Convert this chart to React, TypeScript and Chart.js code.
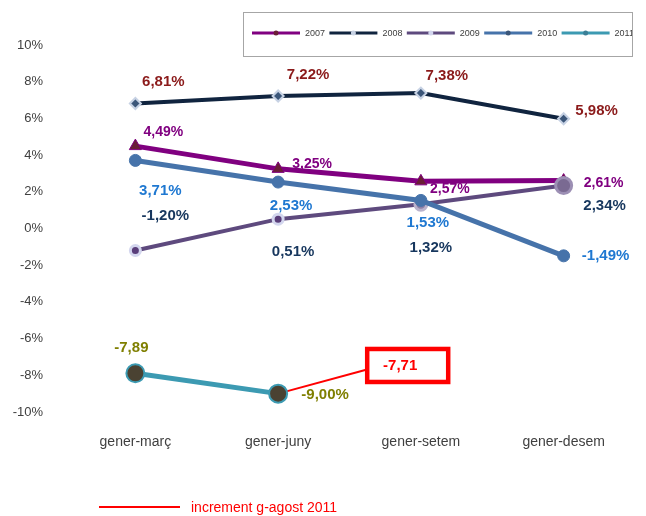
import React, { useEffect, useRef } from 'react';
import { Chart, registerables } from 'chart.js';

Chart.register(...registerables);

// ---------- data ----------
const categories = ['gener-març', 'gener-juny', 'gener-setem', 'gener-desem'];
const seriesNames = ['2007', '2008', '2009', '2010', '2011'];
const values2007 = [4.49, 3.25, 2.57, 2.61];
const values2008 = [6.81, 7.22, 7.38, 5.98];
const values2009 = [-1.2, 0.51, 1.32, 2.34];
const values2010 = [3.71, 2.53, 1.53, -1.49];
const values2011: (number | null)[] = [-7.89, -9.0, null, null];
const labelSuffix2011 = ['', '%'];
const incrementName = 'increment g-agost 2011';
const incrementValue = -7.71;
const incrementLabel = '-7,71';
const incrementPos = 1.61; // horizontal position between gener-juny and gener-setem
const yMin = -10;
const yMax = 10;
const yStep = 2;

// ---------- styles ----------
const FONT = '"Liberation Sans", Arial, sans-serif';
const lineColors = ['#800080', '#10243F', '#5E4A7E', '#4673AA', '#3C9AB2'];
const lineWidths = [5, 4, 4, 5, 5];
const pointStyles = ['triangle', 'rectRot', 'circle', 'circle', 'circle'];
const pointRadii: any[] = [7, 5.5, [5, 5, 6, 8], 6, 9];
const pointFills: any[] = ['#6A1E36', '#3B5679', ['#5A3E7A', '#5A3E7A', '#8C7FA6', '#7A6A92'], '#4673AA', '#4A4232'];
const pointBorders: any[] = ['#800080', '#C7D2E4', ['#D3D6EE', '#D3D6EE', '#B9B2CC', '#9C8FB4'], '#4673AA', '#3C9AB2'];
const pointBorderWidths = [1, 2, 3, 1, 2];
const legendMarkers = ['#6A1E36', '#C7D2E4', '#D3D6EE', '#3B5679', '#3B7F96'];
const drawOrders = [4, 3, 2, 1, 0];
const labelColors = ['#800080', '#8B1A1A', '#17375E', '#1F78D1', '#7F7F00'];
const labelSizes = [14, 15, 15, 15, 15];
const labelOffsets: number[][][] = [
  [[28, -14], [34, -5], [29, 8], [40, 3]],
  [[28, -22], [30, -21], [26, -17], [33, -8]],
  [[30, -35], [15, 33], [10, 44], [41, 20]],
  [[25, 30], [13, 24], [7, 22], [42, 0]],
  [[-4, -25], [47, 1]],
];

const fmt = (v: number) => v.toFixed(2).replace('.', ',');

const overlayPlugin = {
  id: 'overlay',
  afterDatasetsDraw(chart: any) {
    const ctx: CanvasRenderingContext2D = chart.ctx;
    ctx.save();
    // data labels
    for (let s = 0; s < 5; s++) {
      const meta = chart.getDatasetMeta(s);
      const data = chart.data.datasets[s].data as (number | null)[];
      ctx.fillStyle = labelColors[s];
      ctx.font = `bold ${labelSizes[s]}px ${FONT}`;
      ctx.textAlign = 'center';
      ctx.textBaseline = 'middle';
      data.forEach((v, i) => {
        if (v === null || v === undefined) return;
        const el = meta.data[i];
        const off = labelOffsets[s][i];
        const suffix = s === 4 ? labelSuffix2011[i] : '%';
        ctx.fillText(fmt(v) + suffix, el.x + off[0], el.y + off[1]);
      });
    }
    // increment box
    const incMeta = chart.getDatasetMeta(5);
    const end = incMeta.data[1];
    if (end) {
      const bx = end.x + 2;
      const by = end.y - 21;
      ctx.strokeStyle = '#FF0000';
      ctx.lineWidth = 4.5;
      ctx.strokeRect(bx, by, 81, 33);
      ctx.fillStyle = '#FF0000';
      ctx.font = `bold 15px ${FONT}`;
      ctx.textAlign = 'center';
      ctx.textBaseline = 'middle';
      ctx.fillText(incrementLabel, end.x + 35, end.y - 4);
    }
    ctx.restore();
  },
  afterDraw(chart: any) {
    const ctx: CanvasRenderingContext2D = chart.ctx;
    ctx.save();
    // top legend box
    ctx.strokeStyle = '#A6A6A6';
    ctx.lineWidth = 1;
    ctx.strokeRect(243.5, 12.5, 389, 44);
    ctx.beginPath();
    ctx.rect(244, 13, 388, 43);
    ctx.clip();
    for (let s = 0; s < 5; s++) {
      const x0 = 252 + s * 77.4;
      const y = 33;
      ctx.strokeStyle = lineColors[s];
      ctx.lineWidth = 3;
      ctx.beginPath();
      ctx.moveTo(x0, y);
      ctx.lineTo(x0 + 48, y);
      ctx.stroke();
      ctx.fillStyle = legendMarkers[s];
      ctx.beginPath();
      ctx.arc(x0 + 24, y, 2.5, 0, Math.PI * 2);
      ctx.fill();
      ctx.fillStyle = '#404040';
      ctx.font = `9px ${FONT}`;
      ctx.textAlign = 'left';
      ctx.textBaseline = 'middle';
      ctx.fillText(seriesNames[s], x0 + 53, y + 0.5);
    }
    ctx.restore();
    ctx.save();
    // bottom legend
    ctx.strokeStyle = '#FF0000';
    ctx.lineWidth = 2;
    ctx.beginPath();
    ctx.moveTo(99, 507);
    ctx.lineTo(180, 507);
    ctx.stroke();
    ctx.fillStyle = '#FF0000';
    ctx.font = `14px ${FONT}`;
    ctx.textAlign = 'left';
    ctx.textBaseline = 'middle';
    ctx.fillText(incrementName, 191, 508);
    ctx.restore();
  },
};

export default function App() {
  const ref = useRef<HTMLCanvasElement>(null);
  useEffect(() => {
    if (!ref.current) return;
    const seriesValues = [values2007, values2008, values2009, values2010, values2011];
    const datasets: any[] = seriesValues.map((vals, s) => ({
      label: seriesNames[s],
      data: vals,
      borderColor: lineColors[s],
      borderWidth: lineWidths[s],
      backgroundColor: lineColors[s],
      pointStyle: pointStyles[s],
      pointRadius: pointRadii[s],
      pointBackgroundColor: pointFills[s],
      pointBorderColor: pointBorders[s],
      pointBorderWidth: pointBorderWidths[s],
      tension: 0,
      fill: false,
      order: drawOrders[s],
      xAxisID: 'x',
      yAxisID: 'y',
    }));
    datasets.push({
      label: incrementName,
      data: [
        { x: 1, y: values2011[1] },
        { x: incrementPos, y: incrementValue },
      ],
      borderColor: '#FF0000',
      borderWidth: 2,
      pointRadius: 0,
      tension: 0,
      fill: false,
      order: 6,
      xAxisID: 'x2',
      yAxisID: 'y',
    });
    const chart = new Chart(ref.current, {
      type: 'line',
      data: { labels: categories, datasets },
      options: {
        animation: false,
        responsive: false,
        events: [],
        layout: { padding: { top: 45, right: 5, bottom: 64, left: 0 } },
        plugins: { legend: { display: false }, tooltip: { enabled: false } },
        scales: {
          x: {
            type: 'category',
            offset: true,
            grid: { display: false, drawTicks: false },
            border: { display: false },
            ticks: { font: { family: FONT, size: 14 }, color: '#404040', padding: 22 },
            afterFit: (s: any) => {
              s.height = 40;
            },
          },
          x2: {
            type: 'linear',
            display: false,
            min: -0.5,
            max: categories.length - 0.5,
          },
          y: {
            min: yMin,
            max: yMax,
            grid: { display: false, drawTicks: false },
            border: { display: false },
            ticks: {
              stepSize: yStep,
              font: { family: FONT, size: 13 },
              color: '#404040',
              padding: 21,
              callback: (v: any) => `${v}%`,
            },
            afterFit: (s: any) => {
              s.width = 64;
            },
          },
        },
      },
      plugins: [overlayPlugin],
    });
    return () => chart.destroy();
  }, []);
  return (
    <div style={{ position: 'fixed', left: 0, top: 0, width: 646, height: 516, background: '#fff' }}>
      <canvas ref={ref} width={646} height={516} style={{ display: 'block' }} />
    </div>
  );
}
